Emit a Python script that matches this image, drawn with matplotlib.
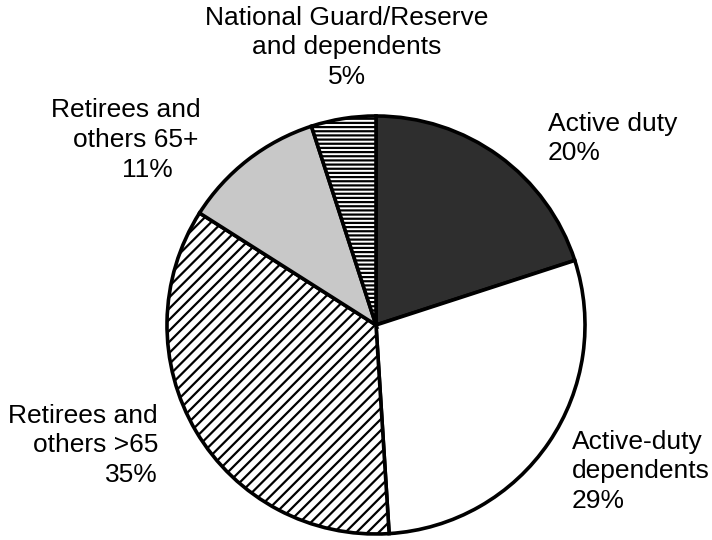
import matplotlib
matplotlib.use("Agg")
import matplotlib.pyplot as plt

labels = ["Active duty", "Active-duty dependents", "Retirees and others >65",
          "Retirees and others 65+", "National Guard/Reserve and dependents"]
shares = [20, 29, 35, 11, 5]
face_colors = ["#2e2e2e", "#ffffff", "#ffffff", "#c8c8c8", "#ffffff"]
hatches = [None, None, "///", None, "----"]

plt.rcParams["font.family"] = ["Liberation Sans", "DejaVu Sans"]
plt.rcParams["hatch.linewidth"] = 1.6

W, H = 712, 540
fig = plt.figure(figsize=(W / 100, H / 100), dpi=100)
ax = fig.add_axes([0, 0, 1, 1])
CX, CY, R = 376, 325, 209

wedges, _ = ax.pie(shares, startangle=90, counterclock=False, radius=1,
                   colors=face_colors,
                   wedgeprops=dict(edgecolor="black", linewidth=2.6))
for w, h in zip(wedges, hatches):
    if h:
        w.set_hatch(h)

ax.set_aspect("auto")
ax.set_xlim(-CX / R, (W - CX) / R)
ax.set_ylim(-(H - CY) / R, CY / R)
ax.axis("off")


def px(x, y):
    return (x - CX) / R, (CY - y) / R


fs = 19
ls = 1.28
ax.text(*px(347, 6), "National Guard/Reserve\nand dependents\n5%", ha="center", va="top",
        fontsize=fs, linespacing=ls)
ax.text(*px(548, 112), "Active duty\n20%", ha="left", va="top", fontsize=fs, linespacing=ls)
ax.text(*px(572, 430), "Active-duty\ndependents\n29%", ha="left", va="top", fontsize=fs,
        linespacing=ls)
ax.text(*px(158, 404), "Retirees and\nothers >65\n35%", ha="right", va="top", fontsize=fs,
        linespacing=ls)
ax.text(*px(201, 98), "Retirees and", ha="right", va="top", fontsize=fs)
ax.text(*px(198, 128), "others 65+", ha="right", va="top", fontsize=fs)
ax.text(*px(173, 158), "11%", ha="right", va="top", fontsize=fs)

fig.savefig("out.png", dpi=100)
